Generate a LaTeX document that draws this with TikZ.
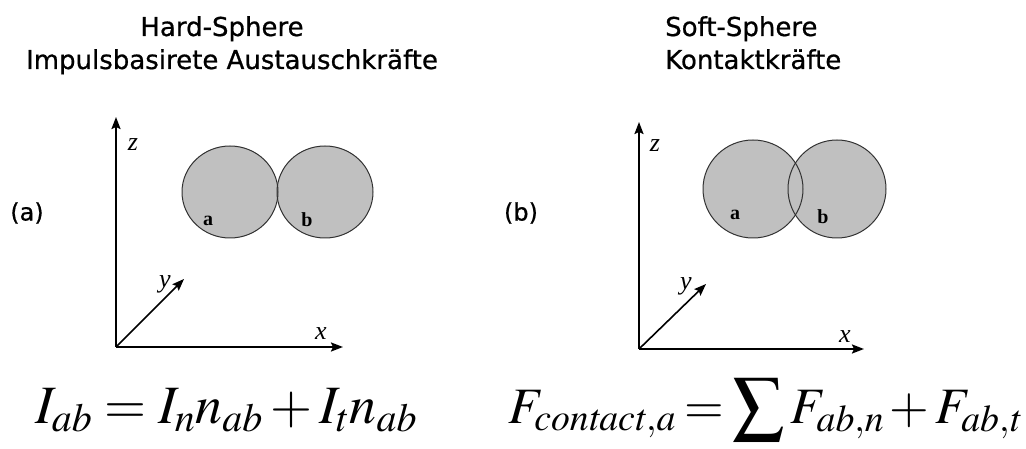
\documentclass[tikz,border=0pt]{standalone}
\usepackage{mathptmx}
\usepackage[no-math]{fontspec}
\setmainfont{DejaVu Sans}
\newfontfamily\headf{DejaVu Sans}[FakeBold=0.7]
\newfontfamily\timesf{Liberation Serif}
\usetikzlibrary{arrows.meta}
\definecolor{ballgray}{RGB}{192,192,192}
\definecolor{rimgray}{RGB}{50,50,50}
\tikzset{
  axis/.style={line width=2pt, -{Stealth[length=12pt,width=9pt,inset=2pt]}},
  ball/.style={fill=ballgray},
  rim/.style={draw=rimgray, line width=1pt},
  head/.style={inner sep=0pt, font=\headf\fontsize{26}{32}\selectfont},
  plabel/.style={inner sep=0pt, font=\headf\fontsize{24}{30}\selectfont},
  axlabel/.style={inner sep=0pt, font=\timesf\itshape\fontsize{26}{30}\selectfont},
  blabel/.style={inner sep=0pt, font=\timesf\bfseries\fontsize{20}{24}\selectfont},
  eq/.style={inner sep=0pt, font=\fontsize{54}{60}\selectfont}
}
\begin{document}
\begin{tikzpicture}[x=1pt,y=-1pt]
\useasboundingbox (0,0) rectangle (1026,449);
% headings
\node[head, anchor=base] (h1) at (222,36) {Hard-Sphere};
\node[head, anchor=base] (h2) at (232,69) {Impulsbasirete Austauschkräfte};
\node[head, anchor=base west] (h3) at (665,36) {Soft-Sphere};
\node[head, anchor=base west] (h4) at (665,69) {Kontaktkräfte};
% panel labels
\node[plabel] (pa) at (27,213) {(a)};
\node[plabel] (pb) at (521,213) {(b)};
% panel (a) axes
\coordinate (o1) at (116,347);
\coordinate (z1) at (116,117);
\coordinate (x1) at (343,347);
\coordinate (y1) at (184,279);
\draw[axis] (o1) -- (z1);
\draw[axis] (o1) -- (x1);
\draw[axis, line width=1.6pt] (o1) -- (y1);
\node[axlabel] (lz1) at (133,145) {z};
\node[axlabel] (ly1) at (165,284) {y};
\node[axlabel] (lx1) at (321,334) {x};
% panel (a) spheres
\fill[ball] (230,192) ellipse [x radius=48, y radius=46];
\fill[ball] (325,192) ellipse [x radius=48, y radius=46];
\draw[rim] (230,192) ellipse [x radius=48, y radius=46];
\draw[rim] (325,192) ellipse [x radius=48, y radius=46];
\node[blabel] (a1) at (208,221) {a};
\node[blabel] (b1) at (307,220) {b};
% panel (b) axes
\coordinate (o2) at (639,349);
\coordinate (z2) at (639,122);
\coordinate (x2) at (864,349);
\coordinate (y2) at (706,284);
\draw[axis] (o2) -- (z2);
\draw[axis] (o2) -- (x2);
\draw[axis, line width=1.6pt] (o2) -- (y2);
\node[axlabel] (lz2) at (655,146) {z};
\node[axlabel] (ly2) at (686,286) {y};
\node[axlabel] (lx2) at (845,337) {x};
% panel (b) spheres
\fill[ball] (753,189) ellipse [x radius=50, y radius=49];
\fill[ball] (837,189) ellipse [x radius=49, y radius=49];
\draw[rim] (753,189) ellipse [x radius=50, y radius=49];
\draw[rim] (837,189) ellipse [x radius=49, y radius=49];
\node[blabel] (a2) at (735,215) {a};
\node[blabel] (b2) at (823,217) {b};
% equations
\node[eq, anchor=base west] (e1) at (35,423) {$I_{ab}=I_{n}n_{ab}+I_{t}n_{ab}$};
\node[eq, anchor=base west] (e2) at (508,423) {\resizebox{513pt}{!}{$\thickmuskip=3mu\medmuskip=2mu\displaystyle F_{\mathit{contact}{,}\mathit{a}}=\sum F_{\mathit{ab}{,}\mathit{n}}+F_{\mathit{ab}{,}\mathit{t}}$}};
\end{tikzpicture}
\end{document}
